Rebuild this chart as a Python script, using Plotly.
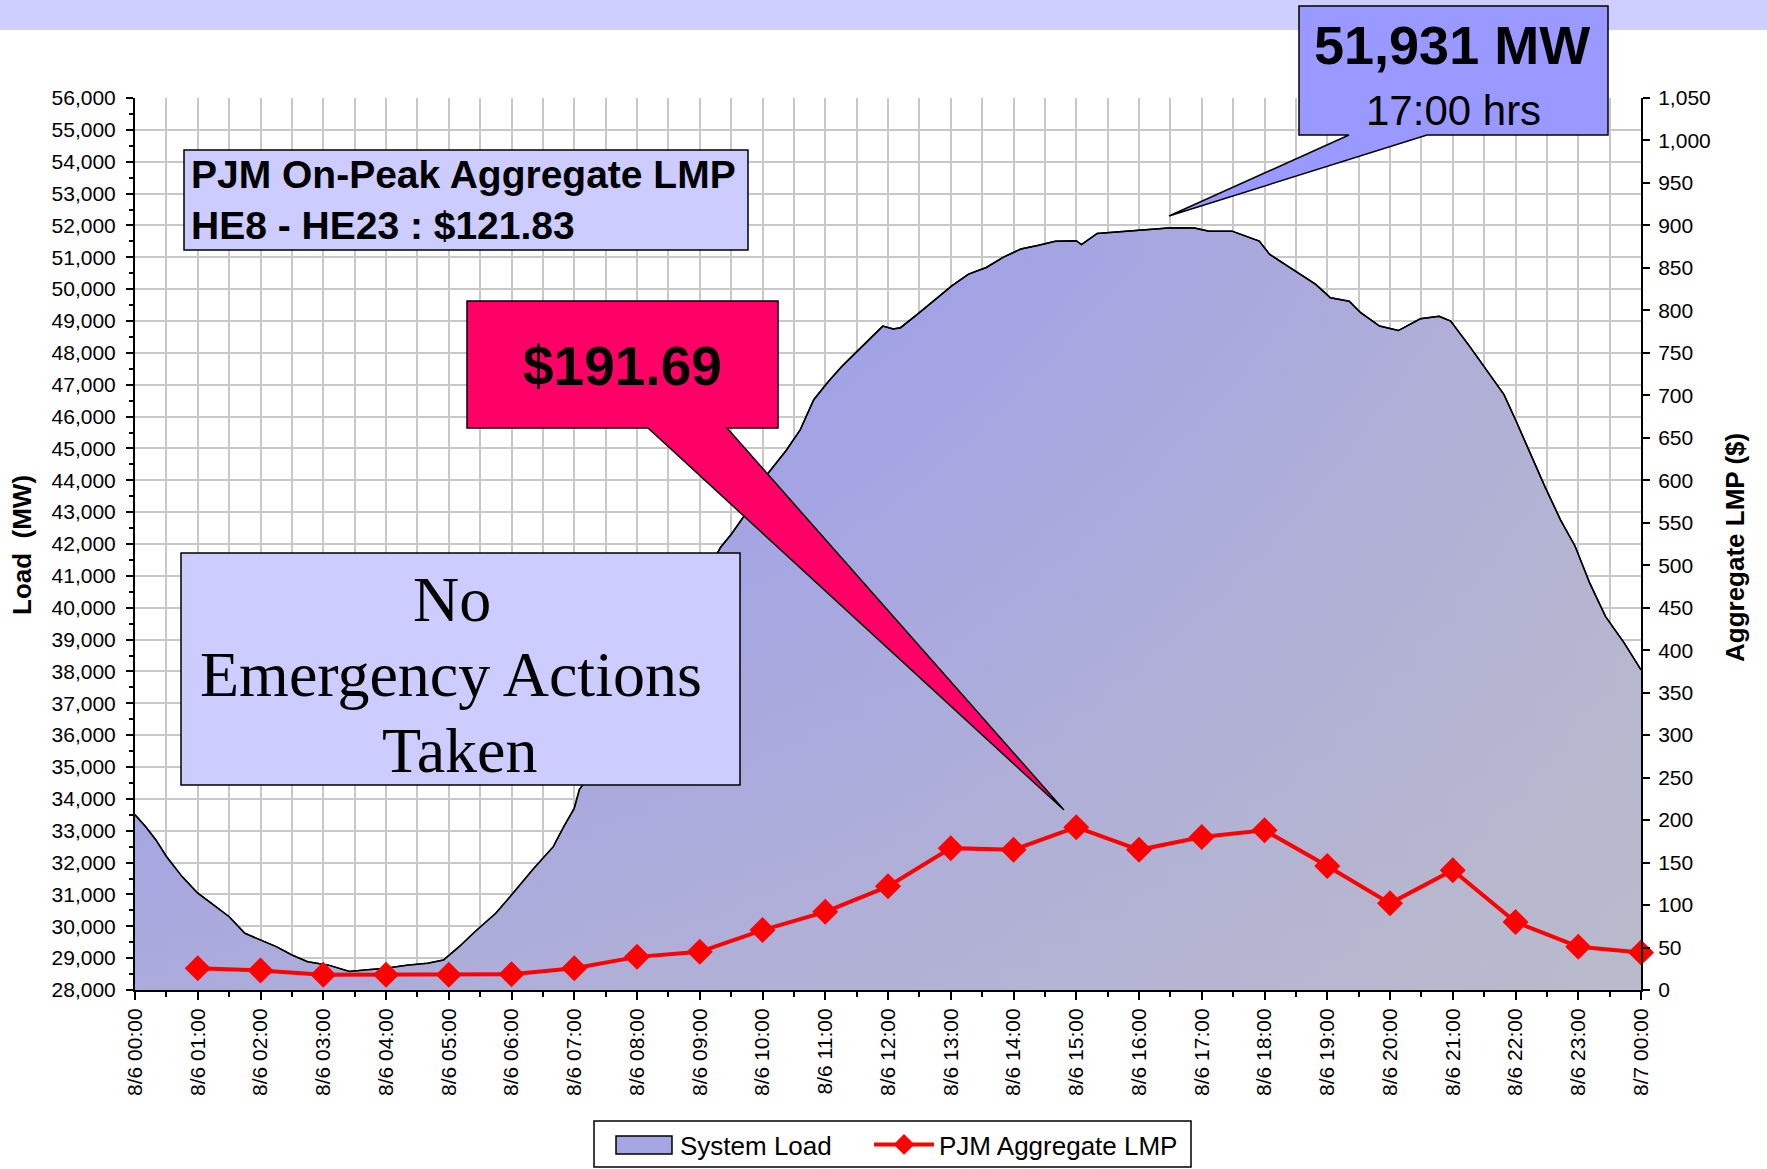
import plotly.graph_objects as go

# ---------------- data ----------------
load_times = ["00:00", "00:10", "00:20", "00:30", "00:45", "01:00", "01:15", "01:30", "01:45",
              "02:00", "02:15", "02:30", "02:45", "03:05", "03:25", "03:40", "04:00", "04:20",
              "04:40", "04:55", "05:10", "05:25", "05:45", "06:00", "06:20", "06:40", "06:50",
              "07:00", "07:05", "07:30", "08:00", "08:30", "09:00", "09:20", "09:30", "09:45",
              "10:00", "10:10", "10:23", "10:36", "10:49", "11:03", "11:16", "11:29", "11:42",
              "11:55", "12:05", "12:12", "12:28", "12:45", "13:01", "13:17", "13:34", "13:50",
              "14:07", "14:23", "14:40", "15:00", "15:05", "15:20", "15:55", "16:13", "16:31",
              "16:53", "17:07", "17:29", "17:55", "18:05", "18:27", "18:49", "19:03", "19:21",
              "19:32", "19:50", "20:08", "20:19", "20:29", "20:47", "20:58", "21:16", "21:34",
              "21:49", "22:00", "22:14", "22:28", "22:43", "22:57", "23:11", "23:26", "23:44",
              "24:00"]
load_mw = [33500, 33130, 32710, 32190, 31560, 31040, 30670, 30300, 29780,
           29570, 29360, 29100, 28890, 28780, 28580, 28630, 28680, 28780,
           28840, 28940, 29360, 29830, 30410, 30980, 31770, 32500, 33130,
           33700, 34300, 35400, 37200, 38900, 40700, 41900, 42300, 43000,
           44000, 44420, 44950, 45580, 46530, 47100, 47580, 48000, 48420,
           48840, 48750, 48790, 49210, 49680, 50100, 50470, 50680, 51000,
           51260, 51370, 51500, 51520, 51400, 51750, 51850, 51900, 51931,
           51920, 51820, 51820, 51510, 51090, 50620, 50150, 49730, 49620,
           49260, 48840, 48700, 48890, 49070, 49150, 49000, 48210, 47370,
           46690, 45900, 44860, 43810, 42760, 41930, 40770, 39730, 38890,
           38050]

lmp_hours = [1, 2, 3, 4, 5, 6, 7, 8, 9, 10, 11, 12, 13, 14, 15, 16, 17, 18, 19, 20, 21, 22, 23, 24]
lmp_values = [25.5, 23, 18, 18, 18, 18.5, 25.5, 39, 45, 70.5, 92, 122, 167, 165, 191.69,
              165, 180, 188, 146, 102, 141, 80, 51, 44]

x_tick_labels = ["8/6 00:00", "8/6 01:00", "8/6 02:00", "8/6 03:00", "8/6 04:00", "8/6 05:00",
                 "8/6 06:00", "8/6 07:00", "8/6 08:00", "8/6 09:00", "8/6 10:00", "8/6 11:00",
                 "8/6 12:00", "8/6 13:00", "8/6 14:00", "8/6 15:00", "8/6 16:00", "8/6 17:00",
                 "8/6 18:00", "8/6 19:00", "8/6 20:00", "8/6 21:00", "8/6 22:00", "8/6 23:00",
                 "8/7 00:00"]

load_range = [28000, 56000]
lmp_range = [0, 1050]

# ---------------- helpers ----------------
load_hours = [int(t[:2]) + int(t[3:]) / 60 for t in load_times]

W, H = 1767, 1169
PL, PR, PT, PB = 135, 1641, 98, 990  # plot area in pixels


def px(x):
    return (x - PL) / (PR - PL)


def py(y):
    return (PB - y) / (PB - PT)


def path(points):
    return "M " + " L ".join(f"{px(a):.5f},{py(b):.5f}" for a, b in points) + " Z"


ARIAL = "Arial, Liberation Sans, sans-serif"
SERIF = "Times New Roman, Liberation Serif, serif"
GRID = "#C8C8C8"

fig = go.Figure()

# System load area: horizontal blue->grey gradient
fig.add_trace(go.Scatter(
    x=load_hours, y=load_mw, name="System Load", mode="lines", showlegend=False,
    line=dict(color="black", width=1.5),
    fill="tozeroy",
    fillgradient=dict(type="horizontal", start=0, stop=24,
                      colorscale=[[0, "rgb(146,146,246)"], [0.5, "rgb(160,160,232)"],
                                  [1, "rgb(178,178,212)"]]),
    hoverinfo="skip",
))
# vertical greying overlay (gives the diagonal look of the original fill)
fig.add_trace(go.Scatter(
    x=load_hours, y=load_mw, mode="lines", showlegend=False,
    line=dict(width=0), fill="tozeroy",
    fillgradient=dict(type="vertical", start=28000, stop=51000,
                      colorscale=[[0, "rgba(194,194,196,0.52)"], [1, "rgba(194,194,196,0)"]]),
    hoverinfo="skip",
))
# outline on top
fig.add_trace(go.Scatter(
    x=load_hours, y=load_mw, mode="lines", showlegend=False,
    line=dict(color="black", width=1.5), hoverinfo="skip",
))
# legend entry for the load area (swatch drawn as a shape below)
fig.add_trace(go.Scatter(
    x=[None], y=[None], name="System Load", mode="lines", legend="legend",
    line=dict(color="rgba(0,0,0,0)", width=1),
    hoverinfo="skip",
))
# LMP
fig.add_trace(go.Scatter(
    x=lmp_hours, y=lmp_values, name="PJM Aggregate LMP", yaxis="y2", legend="legend2",
    mode="lines+markers", line=dict(color="#FF0000", width=4),
    marker=dict(symbol="diamond", size=20, color="#FF0000"),
    cliponaxis=False,
))

shapes = [
    # top lavender band
    dict(type="rect", xref="paper", yref="paper", x0=px(0), x1=px(W), y0=py(30), y1=py(0),
         fillcolor="rgb(207,207,255)", line=dict(width=0), layer="below"),
    # info box
    dict(type="rect", xref="paper", yref="paper", x0=px(184), x1=px(748), y0=py(250), y1=py(150),
         fillcolor="rgb(204,204,255)", line=dict(color="black", width=1.5)),
    # no emergency box
    dict(type="rect", xref="paper", yref="paper", x0=px(181), x1=px(740), y0=py(785), y1=py(553),
         fillcolor="rgb(204,204,255)", line=dict(color="black", width=1.5)),
    # pink callout
    dict(type="path", xref="paper", yref="paper",
         path=path([(467, 301), (778, 301), (778, 428), (727, 428), (1064, 810), (648, 428), (467, 428)]),
         fillcolor="rgb(255,0,102)", line=dict(color="black", width=1.5)),
    # blue callout
    dict(type="path", xref="paper", yref="paper",
         path=path([(1299, 6), (1608, 6), (1608, 135), (1427, 135), (1169, 216), (1349, 135), (1299, 135)]),
         fillcolor="rgb(153,153,255)", line=dict(color="black", width=1.5)),
    # legend frame
    dict(type="rect", xref="paper", yref="paper", x0=px(594), x1=px(1191), y0=py(1167), y1=py(1121),
         fillcolor="white", line=dict(color="black", width=1.5)),
    # legend swatch of the load area
    dict(type="rect", xref="paper", yref="paper", x0=px(616), x1=px(672), y0=py(1154), y1=py(1136),
         fillcolor="rgb(166,166,226)", line=dict(color="black", width=1.5)),
]

annotations = [
    dict(xref="paper", yref="paper", x=px(189), y=py(200), xanchor="left", yanchor="middle",
         align="left", showarrow=False,
         text="<b>PJM On-Peak Aggregate LMP<br>HE8 - HE23 : $121.83</b>",
         font=dict(family=ARIAL, size=39, color="black")),
    dict(xref="paper", yref="paper", x=px(452), y=py(599), xanchor="center", yanchor="middle",
         showarrow=False, text="No", font=dict(family=SERIF, size=64, color="black")),
    dict(xref="paper", yref="paper", x=px(451), y=py(675), xanchor="center", yanchor="middle",
         showarrow=False, text="Emergency Actions", font=dict(family=SERIF, size=64, color="black")),
    dict(xref="paper", yref="paper", x=px(459), y=py(750), xanchor="center", yanchor="middle",
         showarrow=False, text="Taken", font=dict(family=SERIF, size=64, color="black")),
    dict(xref="paper", yref="paper", x=px(622), y=py(366), xanchor="center", yanchor="middle",
         showarrow=False, text="<b>$191.69</b>",
         font=dict(family=ARIAL, size=55, color="black")),
    dict(xref="paper", yref="paper", x=px(1452), y=py(45), xanchor="center", yanchor="middle",
         showarrow=False, text="<b>51,931 MW</b>",
         font=dict(family=ARIAL, size=54, color="black")),
    dict(xref="paper", yref="paper", x=px(1453), y=py(111), xanchor="center", yanchor="middle",
         showarrow=False, text="17:00 hrs",
         font=dict(family=ARIAL, size=42, color="black")),
    # axis titles
    dict(xref="paper", yref="paper", x=px(22), y=py(545), xanchor="center", yanchor="middle",
         textangle=-90, showarrow=False, text="<b>Load&nbsp; (MW)</b>",
         font=dict(family=ARIAL, size=26, color="black")),
    dict(xref="paper", yref="paper", x=px(1735), y=py(548), xanchor="center", yanchor="middle",
         textangle=-90, showarrow=False, text="<b>Aggregate LMP ($)</b>",
         font=dict(family=ARIAL, size=26, color="black")),
]

legend_style = dict(orientation="h", yanchor="top", y=py(1121), xanchor="left",
                    borderwidth=0, bgcolor="rgba(0,0,0,0)",
                    font=dict(size=26, family=ARIAL, color="black"), itemwidth=60)

fig.update_layout(
    width=W, height=H,
    margin=dict(l=PL, r=W - PR, t=PT, b=H - PB, autoexpand=False),
    paper_bgcolor="white", plot_bgcolor="white",
    font=dict(family=ARIAL, size=21, color="black"),
    xaxis=dict(
        range=[0, 24], tickmode="array", tickvals=list(range(25)), ticktext=x_tick_labels,
        tickangle=-90, ticks="outside", ticklen=8, tickwidth=1.5, tickcolor="black",
        showline=True, linecolor="black", linewidth=2,
        showgrid=True, gridcolor=GRID, gridwidth=2,
        minor=dict(tickmode="linear", tick0=0, dtick=0.5, ticks="outside", ticklen=5,
                   tickcolor="black", tickwidth=1.5, showgrid=True, gridcolor=GRID, gridwidth=2),
        tickfont=dict(size=21, family=ARIAL), automargin=False, zeroline=False,
    ),
    yaxis=dict(
        range=load_range, tickmode="linear", tick0=28000, dtick=1000, tickformat=",",
        ticks="outside", ticklen=7, tickwidth=1.5, tickcolor="black",
        showline=True, linecolor="black", linewidth=2,
        showgrid=True, gridcolor=GRID, gridwidth=2, zeroline=False,
        minor=dict(tickmode="linear", tick0=28000, dtick=500, ticks="outside", ticklen=4,
                   tickcolor="black", tickwidth=1.5, showgrid=False),
        tickfont=dict(size=21, family=ARIAL), automargin=False, ticklabelstandoff=6,
    ),
    yaxis2=dict(
        range=lmp_range, overlaying="y", side="right", tickmode="linear", tick0=0, dtick=50,
        tickformat=",", ticks="outside", ticklen=7, tickwidth=1.5, tickcolor="black",
        showline=True, linecolor="black", linewidth=2, showgrid=False, zeroline=False,
        tickfont=dict(size=21, family=ARIAL), automargin=False, ticklabelstandoff=4,
    ),
    legend=dict(legend_style, x=px(610)),
    legend2=dict(legend_style, x=px(869)),
    shapes=shapes,
    annotations=annotations,
    showlegend=True,
)

fig.write_html("out.html", config={"displayModeBar": False},
               post_script="document.body.style.margin='0';")
